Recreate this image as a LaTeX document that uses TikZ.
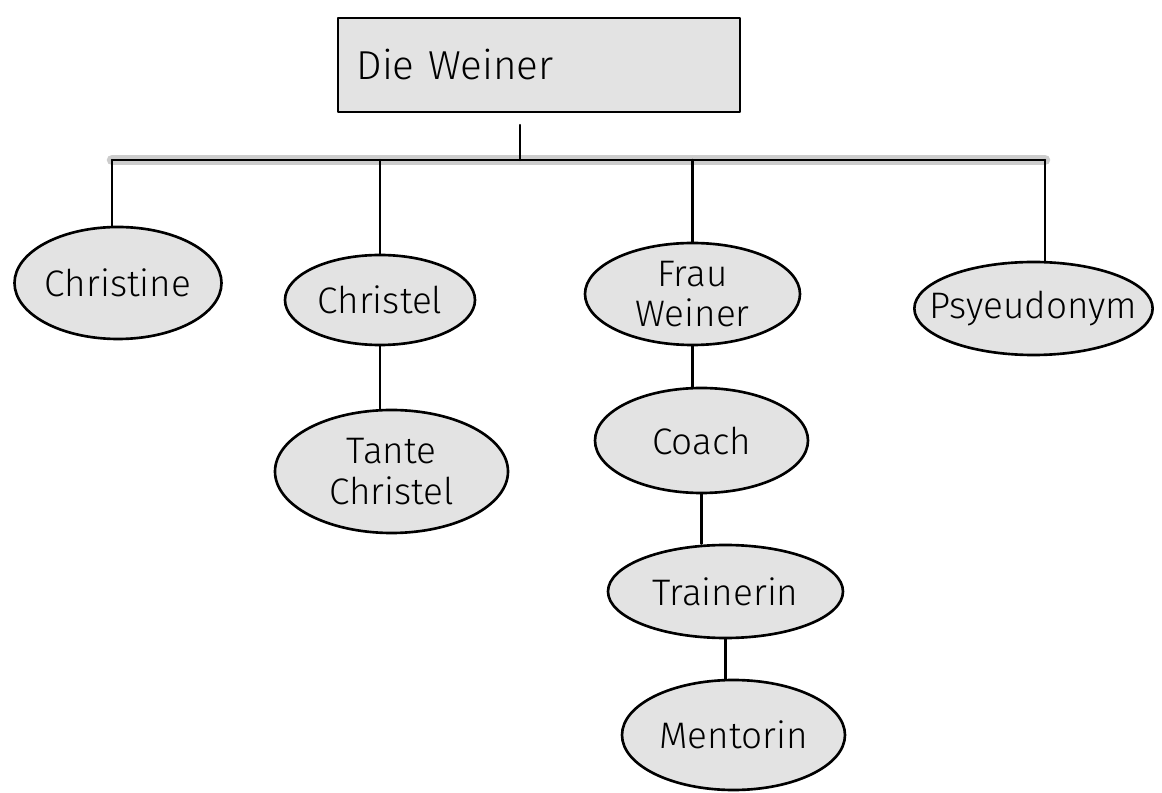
\documentclass[tikz,border=0pt]{standalone}
\usepackage{fontspec}
\setmainfont{Fira Sans Light}
\usetikzlibrary{shapes.geometric}
\tikzset{
  blob/.style={ellipse, draw=black, line width=1.5pt, fill=gray!22, inner sep=0pt, align=center,
    font=\fontsize{21}{23}\selectfont},
  tie/.style={line width=1.4pt, preaction={draw=gray!40, line width=6pt}}
}
\begin{document}
\begin{tikzpicture}[line cap=round, line join=round]
  \useasboundingbox (0,0) rectangle (23.24,-15.86);

  \node[draw=black, line width=1.5pt, fill=gray!22, minimum width=8.04cm, minimum height=1.88cm,
    text width=7.3cm, align=left, font=\fontsize{23}{26}\selectfont] (top) at (10.78,-1.30) {Die Weiner};

  \node[blob, minimum width=4.14cm, minimum height=2.24cm] (chr)  at (2.36,-5.66)  {Christine};
  \node[blob, minimum width=3.80cm, minimum height=1.80cm] (chl)  at (7.60,-6.00)  {Christel};
  \node[blob, minimum width=4.30cm, minimum height=2.04cm] (frau) at (13.85,-5.88) {Frau\\Weiner};
  \node[blob, inner xsep=-11pt, minimum width=4.74cm, minimum height=1.86cm] (pseu) at (20.67,-6.17) {Psyeudonym};
  \node[blob, minimum width=4.66cm, minimum height=2.46cm] (tante) at (7.83,-9.43) {Tante\\Christel};
  \node[blob, minimum width=4.26cm, minimum height=2.10cm] (coach) at (14.03,-8.81) {Coach};
  \node[blob, minimum width=4.70cm, minimum height=1.86cm] (train) at (14.51,-11.83) {Trainerin};
  \node[blob, minimum width=4.46cm, minimum height=2.20cm] (ment) at (14.67,-14.70) {Mentorin};

  \coordinate (stem) at (10.40,-2.50);
  \coordinate (hub) at (10.40,-3.20);
  \coordinate (left) at (2.24,-3.20);
  \coordinate (right) at (20.90,-3.20);

  \draw[tie] (left) -- (right);
  \draw[line width=1.4pt] (stem) -- (hub);
  \draw[line width=1.4pt] (left) -- (left |- chr.north);
  \draw[line width=1.4pt] (chl.north |- hub) -- (chl.north);
  \draw[line width=1.4pt] (frau.north |- hub) -- (frau.north);
  \draw[line width=1.4pt] (right) -- (right |- pseu.north);

  \draw[line width=1.4pt] (chl.south) -- (chl.south |- tante.north);
  \draw[line width=1.4pt] (frau.south) -- (frau.south |- coach.north);
  \draw[line width=1.4pt] (coach.south) -- (coach.south |- train.north);
  \draw[line width=1.4pt] (train.south) -- (train.south |- ment.north);
\end{tikzpicture}
\end{document}
